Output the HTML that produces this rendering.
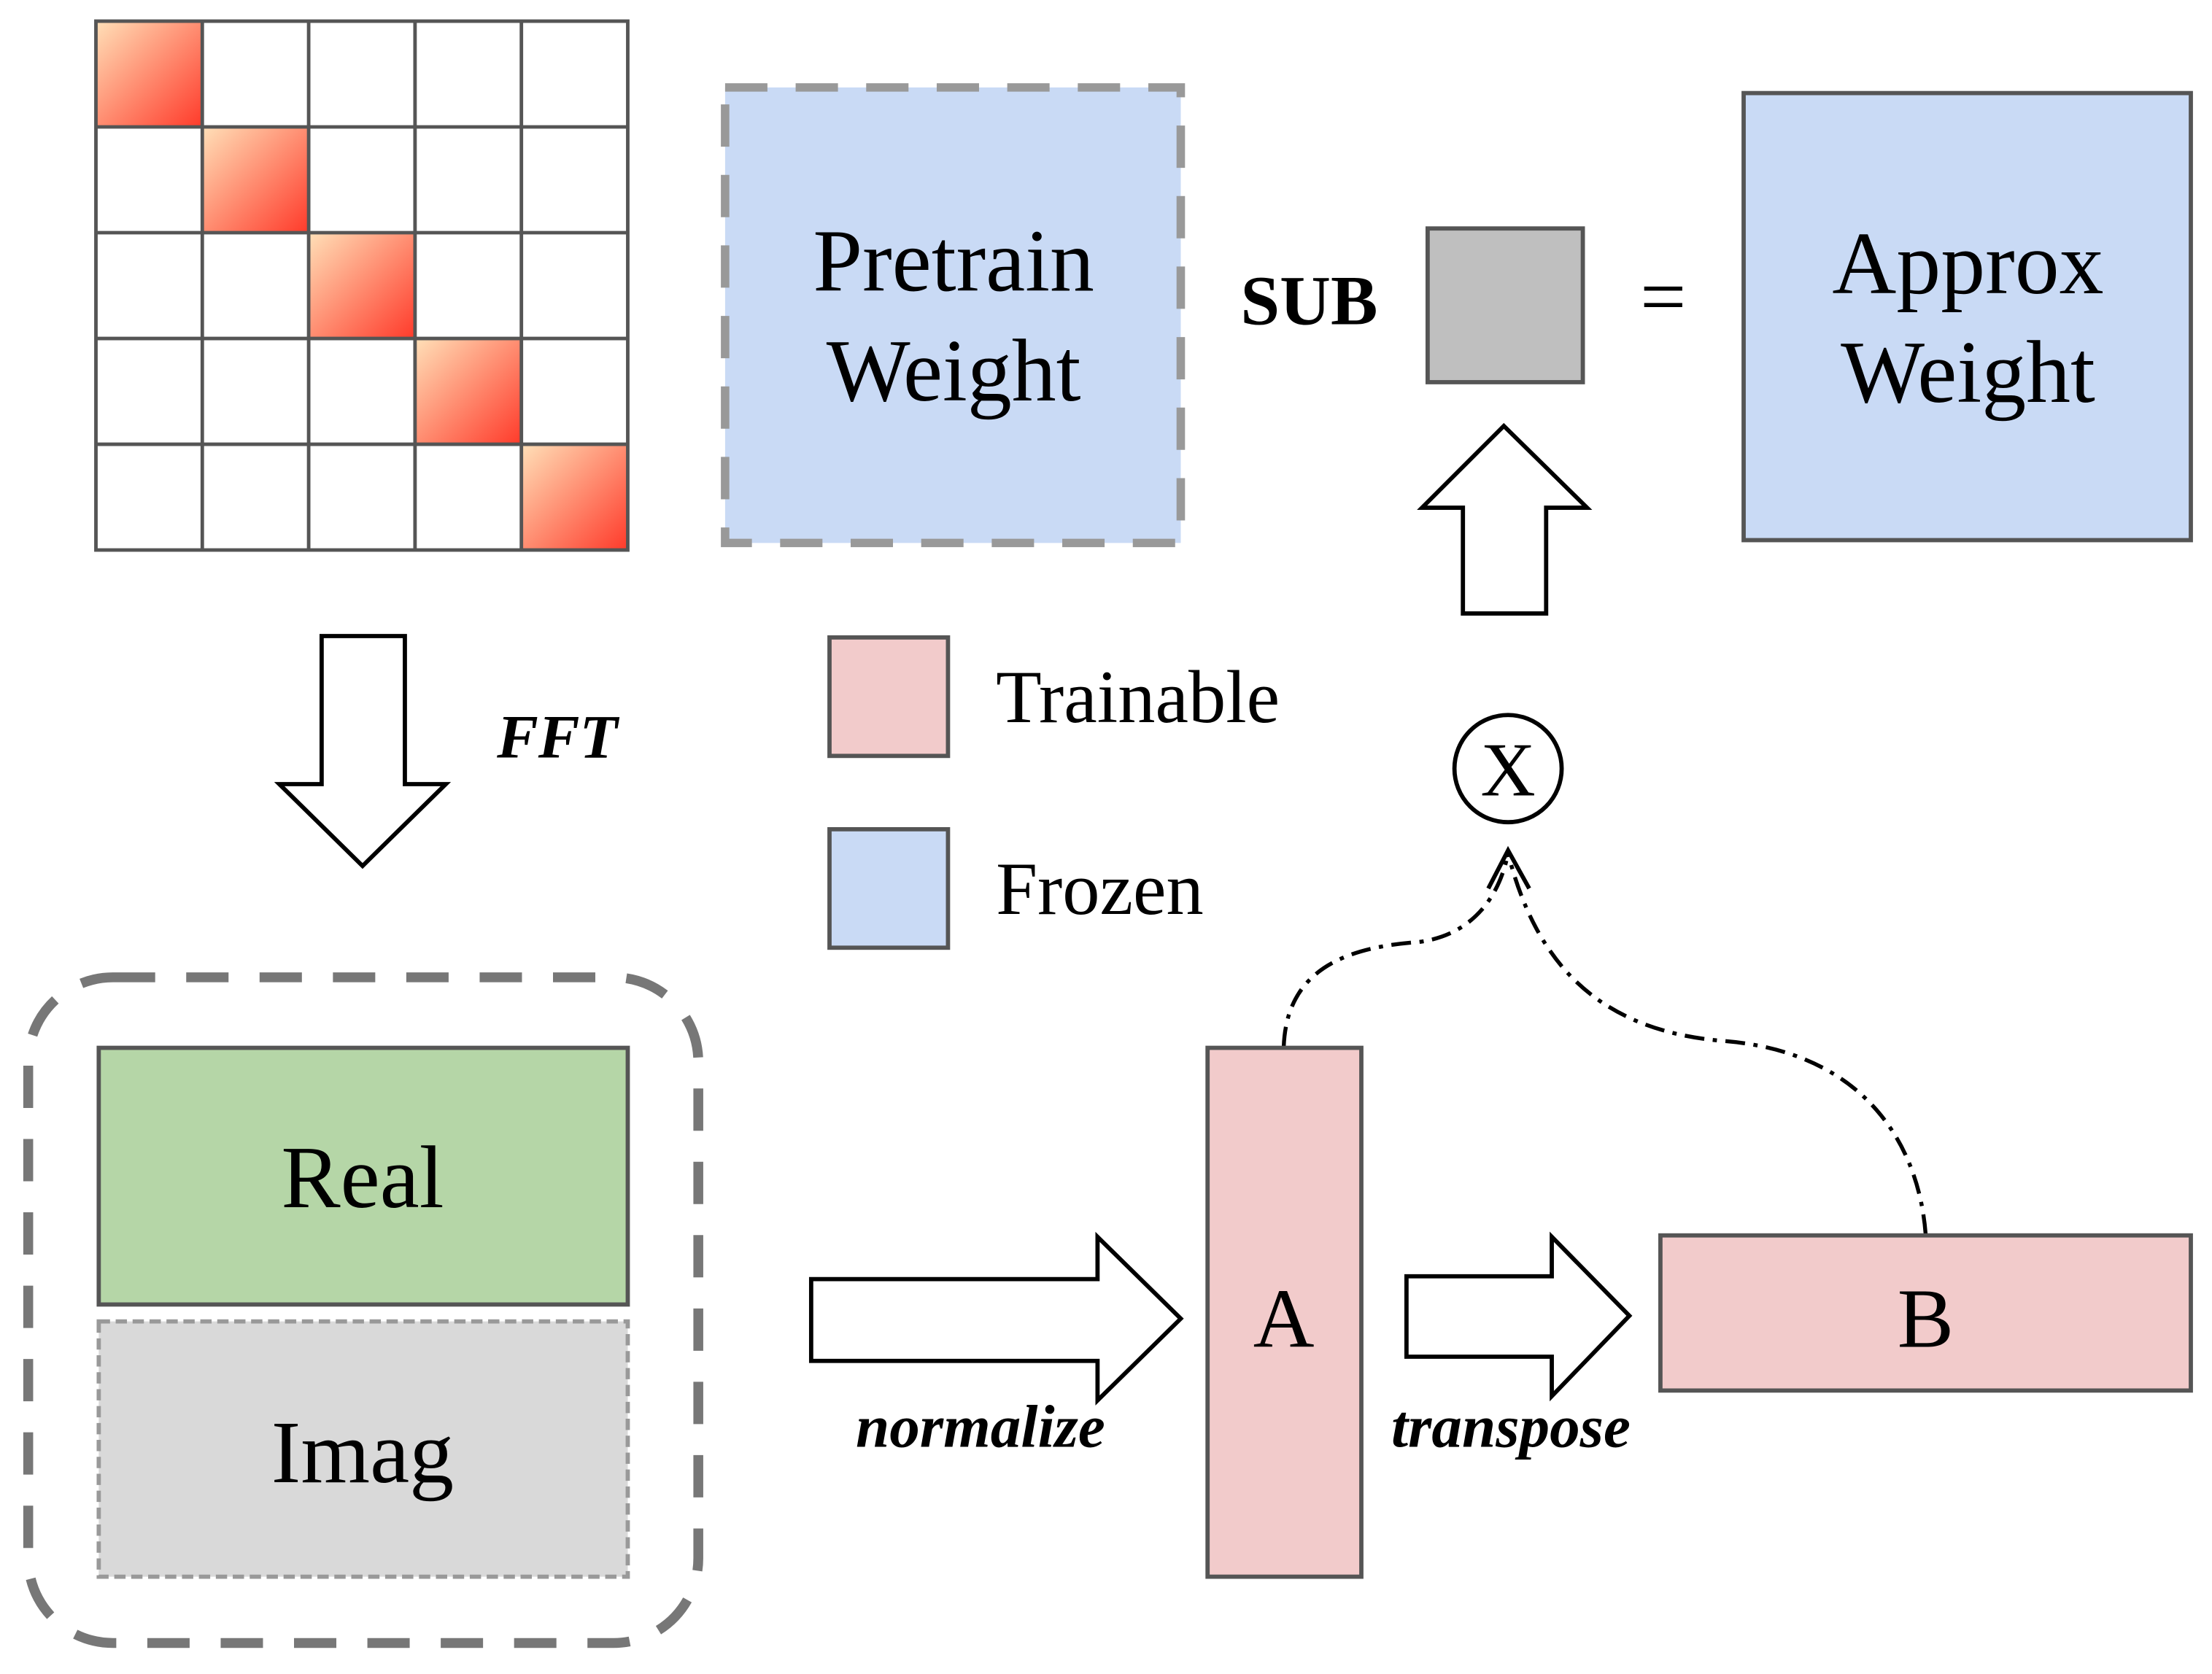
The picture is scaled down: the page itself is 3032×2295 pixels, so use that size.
<!DOCTYPE html>
<html><head><meta charset="utf-8"><style>html,body{margin:0;padding:0;background:#fff}svg{display:block}</style></head>
<body>
<svg width="3032" height="2295" viewBox="0 0 1568 1187" preserveAspectRatio="none" xmlns="http://www.w3.org/2000/svg" font-family="'Liberation Serif', serif">
<defs>
<linearGradient id="g" x1="0" y1="0" x2="1" y2="1">
<stop offset="0" stop-color="#ffe0b8"/><stop offset="1" stop-color="#ff3a2a"/>
</linearGradient>
</defs>
<rect width="1568" height="1187" fill="#fff"/>
<g>
<rect x="68" y="15" width="75.4" height="75" fill="url(#g)"/>
<rect x="143.4" y="90" width="75.4" height="75" fill="url(#g)"/>
<rect x="218.8" y="165" width="75.4" height="75" fill="url(#g)"/>
<rect x="294.2" y="240" width="75.4" height="75" fill="url(#g)"/>
<rect x="369.6" y="315" width="75.4" height="75" fill="url(#g)"/>
<g stroke="#555" stroke-width="2.5" fill="none">
<rect x="68" y="15" width="377" height="375"/>
<line x1="143.4" y1="15" x2="143.4" y2="390"/><line x1="218.8" y1="15" x2="218.8" y2="390"/>
<line x1="294.2" y1="15" x2="294.2" y2="390"/><line x1="369.6" y1="15" x2="369.6" y2="390"/>
<line x1="68" y1="90" x2="445" y2="90"/><line x1="68" y1="165" x2="445" y2="165"/>
<line x1="68" y1="240" x2="445" y2="240"/><line x1="68" y1="315" x2="445" y2="315"/>
</g>
</g>
<rect x="514" y="62" width="323" height="323" fill="#c9daf5" stroke="#999" stroke-width="6" stroke-dasharray="30 20"/>
<text x="676" y="206" font-size="63" text-anchor="middle">Pretrain</text>
<text x="676" y="284" font-size="63" text-anchor="middle">Weight</text>
<text x="928" y="230" font-size="50" font-weight="bold" text-anchor="middle">SUB</text>
<rect x="1012" y="162" width="110" height="109" fill="#bfbfbf" stroke="#555" stroke-width="3"/>
<text x="1179" y="230" font-size="58" text-anchor="middle">=</text>
<rect x="1236" y="66" width="317" height="317" fill="#c9daf5" stroke="#555" stroke-width="3"/>
<text x="1395" y="208" font-size="63" text-anchor="middle">Approx</text>
<text x="1395" y="285" font-size="63" text-anchor="middle">Weight</text>
<polygon points="1037,435 1096,435 1096,360 1125,360 1066,302 1008,360 1037,360" fill="#fff" stroke="#000" stroke-width="3"/>
<polygon points="228,451 287,451 287,556 316,556 257,614 198,556 228,556" fill="#fff" stroke="#000" stroke-width="3"/>
<text x="395" y="537" font-size="44" font-weight="bold" font-style="italic" text-anchor="middle">FFT</text>
<rect x="588" y="452" width="84" height="84" fill="#f2cbcb" stroke="#555" stroke-width="3"/>
<text x="706" y="512" font-size="53">Trainable</text>
<rect x="588" y="588" width="84" height="84" fill="#c9daf5" stroke="#555" stroke-width="3"/>
<text x="706" y="648" font-size="53">Frozen</text>
<circle cx="1069" cy="545" r="38" fill="#fff" stroke="#000" stroke-width="3"/>
<text x="1069" y="564" font-size="54" text-anchor="middle">X</text>
<g fill="none" stroke="#000" stroke-width="2.8" stroke-dasharray="14 6 3 6">
<path d="M910 742 C912 690 950 672 1005 668 C1040 664 1062 640 1069 605"/>
<path d="M1365 875 C1360 810 1320 745 1220 738 C1130 730 1088 680 1069 605"/>
</g>
<polyline points="1055,630 1069,603 1084,630" fill="none" stroke="#000" stroke-width="3"/>
<rect x="20" y="693" width="475" height="472" rx="60" fill="none" stroke="#777" stroke-width="7" stroke-dasharray="30 22"/>
<rect x="70" y="743" width="375" height="182" fill="#b5d6a7" stroke="#555" stroke-width="3"/>
<text x="257" y="856" font-size="63" text-anchor="middle">Real</text>
<rect x="70" y="937" width="375" height="181" fill="#d9d9d9" stroke="#999" stroke-width="3" stroke-dasharray="8 4"/>
<text x="257" y="1051" font-size="63" text-anchor="middle">Imag</text>
<polygon points="575,907 778,907 778,877 837,935 778,993 778,965 575,965" fill="#fff" stroke="#000" stroke-width="3"/>
<text x="695" y="1026" font-size="43" font-weight="bold" font-style="italic" text-anchor="middle">normalize</text>
<rect x="856" y="743" width="109" height="375" fill="#f2cbcb" stroke="#555" stroke-width="3"/>
<text x="910" y="955" font-size="60" text-anchor="middle">A</text>
<polygon points="997,905 1100,905 1100,877 1155,933 1100,990 1100,962 997,962" fill="#fff" stroke="#000" stroke-width="3"/>
<text x="1071" y="1026" font-size="43" font-weight="bold" font-style="italic" text-anchor="middle">transpose</text>
<rect x="1177" y="876" width="376" height="110" fill="#f2cbcb" stroke="#555" stroke-width="3"/>
<text x="1365" y="955" font-size="60" text-anchor="middle">B</text>
</svg>
</body></html>
